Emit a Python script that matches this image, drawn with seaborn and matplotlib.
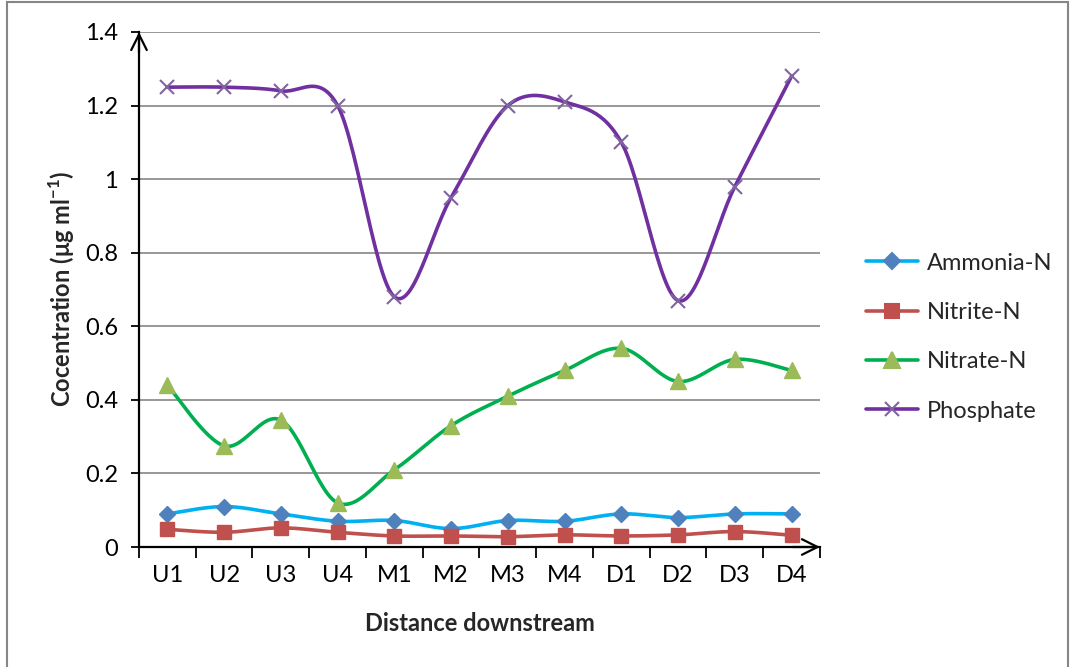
import numpy as np
import pandas as pd
import matplotlib
matplotlib.use("Agg")
import matplotlib.pyplot as plt
from matplotlib.lines import Line2D
from matplotlib.patches import Rectangle
import seaborn as sns

sites = ["U1", "U2", "U3", "U4", "M1", "M2", "M3", "M4", "D1", "D2", "D3", "D4"]
ammonia = [0.090, 0.110, 0.090, 0.070, 0.072, 0.050, 0.072, 0.070, 0.090, 0.080, 0.090, 0.090]
nitrite = [0.048, 0.040, 0.052, 0.040, 0.030, 0.030, 0.028, 0.033, 0.030, 0.033, 0.042, 0.032]
nitrate = [0.440, 0.275, 0.345, 0.120, 0.210, 0.330, 0.410, 0.480, 0.540, 0.450, 0.510, 0.480]
phosphate = [1.250, 1.250, 1.240, 1.200, 0.680, 0.950, 1.200, 1.210, 1.100, 0.670, 0.980, 1.280]

series_names = ["Ammonia-N", "Nitrite-N", "Nitrate-N", "Phosphate"]
series_values = [ammonia, nitrite, nitrate, phosphate]
line_colors = ["#00B0F0", "#C0504D", "#00B050", "#7030A0"]
marker_colors = ["#4F81BD", "#C0504D", "#9BBB59", "#8064A2"]
markers = ["D", "s", "^", "x"]
marker_sizes = [8, 10, 11, 10]

sns.set_theme(style="white")
plt.rcParams["font.family"] = ["Lato", "DejaVu Sans"]
plt.rcParams["mathtext.fontset"] = "custom"
plt.rcParams["mathtext.bf"] = "Lato:bold"
plt.rcParams["mathtext.rm"] = "Lato"

FS = 17


def catmull_rom(x, y, n=30):
    x = np.asarray(x, float)
    y = np.asarray(y, float)
    px = np.concatenate([[x[0]], x, [x[-1]]])
    py = np.concatenate([[y[0]], y, [y[-1]]])
    xs, ys = [], []
    t = np.linspace(0, 1, n)
    for i in range(1, len(px) - 2):
        p0x, p1x, p2x, p3x = px[i - 1], px[i], px[i + 1], px[i + 2]
        p0y, p1y, p2y, p3y = py[i - 1], py[i], py[i + 1], py[i + 2]
        c1x = p1x + (p2x - p0x) / 6
        c1y = p1y + (p2y - p0y) / 6
        c2x = p2x - (p3x - p1x) / 6
        c2y = p2y - (p3y - p1y) / 6
        bx = (1 - t) ** 3 * p1x + 3 * (1 - t) ** 2 * t * c1x + 3 * (1 - t) * t ** 2 * c2x + t ** 3 * p2x
        by = (1 - t) ** 3 * p1y + 3 * (1 - t) ** 2 * t * c1y + 3 * (1 - t) * t ** 2 * c2y + t ** 3 * p2y
        xs.append(bx if i == 1 else bx[1:])
        ys.append(by if i == 1 else by[1:])
    return np.concatenate(xs), np.concatenate(ys)


fig = plt.figure(figsize=(10.72, 6.67), dpi=100)
ax = fig.add_axes([139 / 1072, 1 - 547 / 667, (820 - 139) / 1072, (547 - 32) / 667])

xpos = np.arange(len(sites))
for name, vals, lc, mc, mk, ms in zip(series_names, series_values, line_colors,
                                      marker_colors, markers, marker_sizes):
    sx, sy = catmull_rom(xpos, vals)
    sns.lineplot(x=sx, y=sy, ax=ax, color=lc, linewidth=2.6, sort=False,
                 estimator=None, zorder=3)
    if mk == "x":
        ax.plot(xpos, vals, linestyle="none", marker=mk, markersize=ms,
                markeredgecolor=mc, markeredgewidth=1.5, zorder=4)
    else:
        ax.plot(xpos, vals, linestyle="none", marker=mk, markersize=ms,
                markerfacecolor=mc, markeredgecolor=mc, zorder=4)

ax.set_xlim(-0.5, len(sites) - 0.5)
ax.set_ylim(0, 1.4)
yt = np.round(np.arange(0, 1.41, 0.2), 1)
ax.set_yticks(yt)
ax.set_yticklabels(["0" if v == 0 else ("1" if v == 1 else f"{v:g}") for v in yt])
ax.yaxis.grid(True, color="#868686", linewidth=1.2)
ax.set_axisbelow(True)
ax.set_xticks(xpos)
ax.set_xticklabels(sites)
ax.set_xticks(np.arange(-0.5, len(sites)), minor=True)
ax.tick_params(axis="x", which="major", length=0, labelsize=FS, pad=13, colors="black")
ax.tick_params(axis="x", which="minor", length=8, width=1.3, direction="out",
               color="black", bottom=True)
ax.tick_params(axis="y", which="major", length=6, width=1.3, direction="out",
               labelsize=FS, pad=9, colors="black", left=True)

for side in ["top", "right"]:
    ax.spines[side].set_visible(False)
for side in ["left", "bottom"]:
    ax.spines[side].set_color("black")
    ax.spines[side].set_linewidth(1.6)

# axis arrows
ax.annotate("", xy=(0, 1.0), xytext=(0, 0.96), xycoords="axes fraction",
            arrowprops=dict(arrowstyle="->", color="black", lw=1.6,
                            mutation_scale=28, shrinkA=0, shrinkB=0))
ax.annotate("", xy=(1.0, 0), xytext=(0.96, 0), xycoords="axes fraction",
            arrowprops=dict(arrowstyle="->", color="black", lw=1.6,
                            mutation_scale=28, shrinkA=0, shrinkB=0))

ax.set_xlabel("Distance downstream", fontsize=FS, fontweight="bold", labelpad=19)
ax.set_ylabel(r"Cocentration (μg ml$^{\mathbf{-1}}$)", fontsize=FS,
              fontweight="bold", labelpad=6)

handles = [Line2D([0], [0], color=lc, linewidth=2.6, marker=mk,
                  markersize=ms, markerfacecolor=mc, markeredgecolor=mc,
                  markeredgewidth=1.5)
           for lc, mc, mk, ms in zip(line_colors, marker_colors, markers, marker_sizes)]
fig.legend(handles, series_names, loc="center left",
           bbox_to_anchor=(845 / 1072, 1 - 337 / 667), frameon=False,
           fontsize=FS, handlelength=2.2, labelspacing=1.2, handletextpad=0.35)

fig.patches.append(Rectangle((7 / 1072, -0.02), (1068 - 7) / 1072, 1 - 2 / 667 + 0.02,
                             transform=fig.transFigure, fill=False,
                             edgecolor="#868686", linewidth=1.5))

fig.savefig("out.png", dpi=100)
